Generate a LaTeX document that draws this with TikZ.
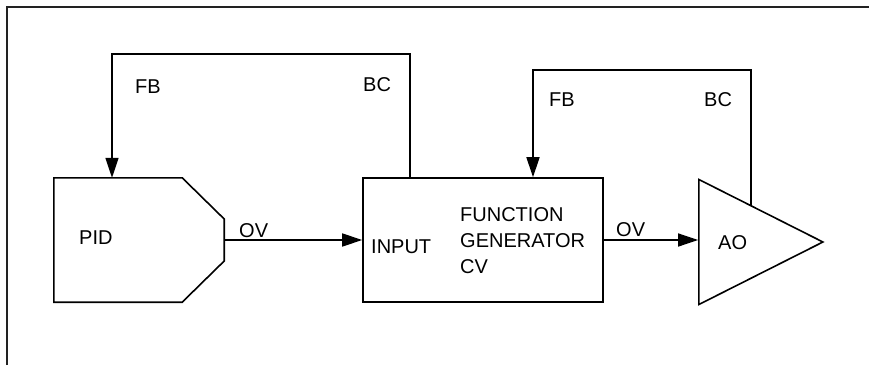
\documentclass[tikz,border=0pt]{standalone}
\usepackage{fontspec}
\setmainfont{Liberation Sans}
\usepackage{xcolor}
\definecolor{inkblack}{HTML}{000000}
\definecolor{framegray}{HTML}{222222}
\usepackage{tikz}
\usetikzlibrary{shapes.geometric, arrows.meta, positioning, calc}
\tikzset{
  fblock/.style ={rectangle, draw=inkblack, line width=1.6pt, fill=white, inner sep=0pt,
                  minimum width=240pt, minimum height=124pt},
  pidblock/.style={rectangle, inner sep=0pt, minimum width=170pt, minimum height=124pt},
  aoblock/.style ={isosceles triangle, isosceles triangle stretches, draw=inkblack, line width=1.6pt,
                  inner sep=0pt, minimum width=125pt, minimum height=124pt},
  sarr/.style ={-{Triangle[length=20pt, width=13pt]}, line width=1.6pt, color=inkblack},
  sline/.style={line width=1.6pt, color=inkblack},
  slbl/.style ={font=\fontsize{20}{26}\selectfont, text=inkblack, inner sep=0pt, anchor=base west},
}

\begin{document}
\begin{tikzpicture}[x=1pt, y=1pt]
  \useasboundingbox (0,0) rectangle (869,365);
  \draw[line width=2pt, color=framegray] (7,0) -- (7,358) -- (869,358);
  % blocks
  \node[pidblock] (pid) at (139,125) {};
  \draw[sline] (pid.north west) -- ($(pid.north east)+(-42,0)$) -- ($(pid.east)+(0,21)$)
    -- ($(pid.east)+(0,-21)$) -- ($(pid.south east)+(-42,0)$) -- (pid.south west) -- cycle;
  \node[fblock] (fg) at (483,125) {};
  \node[aoblock, anchor=apex] (ao) at (825,123) {};
  % loop corners
  \coordinate (fbTop1) at (112,311); \coordinate (bcTop1) at (410,311);
  \coordinate (fbTop2) at (533,295); \coordinate (bcTop2) at (751,295);
  \coordinate (bcBot2) at (751,0);
  \coordinate (aoBC) at (intersection of bcTop2--bcBot2 and ao.apex--ao.left corner);
  % signals
  \draw[sarr] (pid.east) -- (fg.west);
  \draw[sarr] (fg.east) -- (fg.east -| ao.lower side);
  \draw[sarr] (fg.north -| bcTop1) -- (bcTop1) -- (fbTop1) -- (fbTop1 |- pid.north);
  \draw[sarr] (aoBC) -- (bcTop2) -- (fbTop2) -- (fbTop2 |- fg.north);
  % labels
  \node[slbl] (lblPid) at (79,121) {PID};
  \node[slbl] (lblFb1) at (135,272) {FB};
  \node[slbl] (lblBc1) at (363,274) {BC};
  \node[slbl] (lblOv1) at (239,128) {OV};
  \node[slbl] (lblIn) at (371,112) {INPUT};
  \node[slbl] (lblFn1) at (460,144) {FUNCTION};
  \node[slbl] (lblFn2) at (460,118) {GENERATOR};
  \node[slbl] (lblFn3) at (460,92) {CV};
  \node[slbl] (lblFb2) at (549,259) {FB};
  \node[slbl] (lblBc2) at (704,259) {BC};
  \node[slbl] (lblOv2) at (616,129) {OV};
  \node[slbl] (lblAo) at (718,116) {AO};
\end{tikzpicture}
\end{document}
